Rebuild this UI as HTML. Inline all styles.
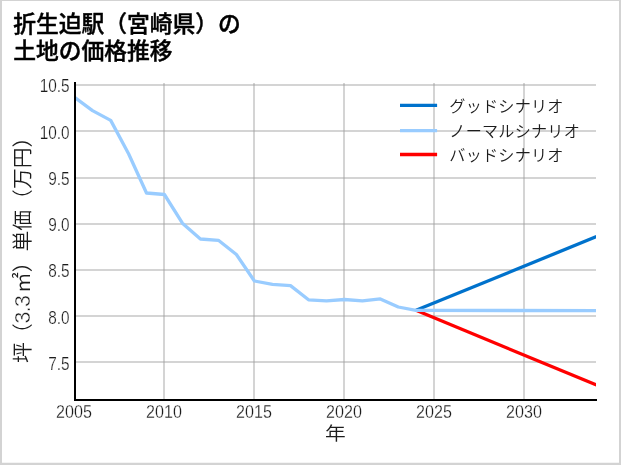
<!DOCTYPE html>
<html lang="ja"><head><meta charset="utf-8"><title>折生迫駅（宮崎県）の土地の価格推移</title>
<style>
html,body{margin:0;padding:0;background:#fff;}
body{width:621px;height:465px;overflow:hidden;}
svg{display:block;}
text{font-family:"Liberation Sans","Noto Sans CJK JP",sans-serif;fill:#1c1c1c;}
.title{font-weight:500;font-size:22.78px;fill:#000;stroke:#000;stroke-width:0.45px;stroke-linejoin:round;}
.tick{font-weight:400;font-size:17.8px;stroke:#fff;stroke-width:0.25px;}
.lab{font-weight:350;font-size:20.8px;}
.leg{font-weight:350;font-size:16.1px;letter-spacing:0.25px;}
.num{stroke:#fff;stroke-width:0.4px;font-size:21.4px;letter-spacing:-0.7px;}
</style></head><body>
<svg width="621" height="465" viewBox="0 0 621 465">
<rect x="0" y="0" width="621" height="465" fill="#fff"/>
<path d="M0 0H621V465H0Z M2 1H619V462.8H2Z" fill="#d3d3d3" fill-rule="evenodd"/>
<text class="title" x="13.2" y="31.6">折生迫駅（宮崎県）の</text>
<text class="title" x="13.2" y="58.6">土地の価格推移</text>
<clipPath id="ax"><rect x="75.0" y="83.0" width="521.0" height="316.9"/></clipPath>
<g stroke="#9d9d9d" stroke-opacity="0.44" stroke-width="2" fill="none"><line x1="164" y1="83.0" x2="164" y2="399.9"/><line x1="254" y1="83.0" x2="254" y2="399.9"/><line x1="344" y1="83.0" x2="344" y2="399.9"/><line x1="434" y1="83.0" x2="434" y2="399.9"/><line x1="524" y1="83.0" x2="524" y2="399.9"/><line x1="75.0" y1="85" x2="596.0" y2="85"/><line x1="75.0" y1="131" x2="596.0" y2="131"/><line x1="75.0" y1="178" x2="596.0" y2="178"/><line x1="75.0" y1="224" x2="596.0" y2="224"/><line x1="75.0" y1="270" x2="596.0" y2="270"/><line x1="75.0" y1="316" x2="596.0" y2="316"/><line x1="75.0" y1="362" x2="596.0" y2="362"/></g>
<g clip-path="url(#ax)" fill="none" stroke-width="3.3" stroke-linejoin="round" stroke-linecap="butt"><polyline stroke="#0072cc" points="416.0,310.3 596.5,236.6"/><polyline stroke="#ff0000" points="416.0,310.3 596.5,385.1"/><polyline stroke="#99ccff" points="74.6,97.4 92.5,110.6 110.7,120.4 128.7,154.0 146.5,193.0 164.4,194.5 182.4,223.2 200.4,239.0 218.4,240.3 236.4,254.5 254.4,281.0 272.5,284.4 290.5,285.6 308.5,299.8 326.5,300.8 344.4,299.5 362.4,300.8 380.3,298.9 398.3,307.0 416.0,310.3 596.5,310.7"/></g>
<path d="M75.0 83.0 V399.9 H596.0" fill="none" stroke="#000" stroke-width="2" stroke-linecap="square" stroke-linejoin="miter"/>
<text class="tick" text-anchor="end" transform="translate(69.6,91.9) scale(0.865,1)">10.5</text><text class="tick" text-anchor="end" transform="translate(69.6,139.0) scale(0.865,1)">10.0</text><text class="tick" text-anchor="end" transform="translate(69.6,184.6) scale(0.865,1)">9.5</text><text class="tick" text-anchor="end" transform="translate(69.6,231.1) scale(0.865,1)">9.0</text><text class="tick" text-anchor="end" transform="translate(69.6,277.1) scale(0.865,1)">8.5</text><text class="tick" text-anchor="end" transform="translate(69.6,324.1) scale(0.865,1)">8.0</text><text class="tick" text-anchor="end" transform="translate(69.6,370.0) scale(0.865,1)">7.5</text><text class="tick" text-anchor="middle" transform="translate(74.0,417.8) scale(0.905,1)">2005</text><text class="tick" text-anchor="middle" transform="translate(164,417.8) scale(0.905,1)">2010</text><text class="tick" text-anchor="middle" transform="translate(254,417.8) scale(0.905,1)">2015</text><text class="tick" text-anchor="middle" transform="translate(344,417.8) scale(0.905,1)">2020</text><text class="tick" text-anchor="middle" transform="translate(434,417.8) scale(0.905,1)">2025</text><text class="tick" text-anchor="middle" transform="translate(524,417.8) scale(0.905,1)">2030</text>
<text class="lab" text-anchor="middle" transform="translate(335.4,440.3) scale(1,0.9)">年</text>
<text class="lab" transform="translate(29.9,362.9) rotate(-90)">坪<tspan dx="-1.8">（</tspan><tspan class="num" dx="-0.4">3.3</tspan><tspan dx="2.8">㎡</tspan>）単価（万円）</text>
<line x1="400" y1="105.4" x2="437.1" y2="105.4" stroke="#0072cc" stroke-width="3.3"/><text class="leg" x="449.3" y="111.7">グッドシナリオ</text><line x1="400" y1="130.6" x2="437.1" y2="130.6" stroke="#99ccff" stroke-width="3.3"/><text class="leg" x="449.3" y="136.9">ノーマルシナリオ</text><line x1="400" y1="154.5" x2="437.1" y2="154.5" stroke="#ff0000" stroke-width="3.3"/><text class="leg" x="449.3" y="160.8">バッドシナリオ</text>
</svg></body></html>
